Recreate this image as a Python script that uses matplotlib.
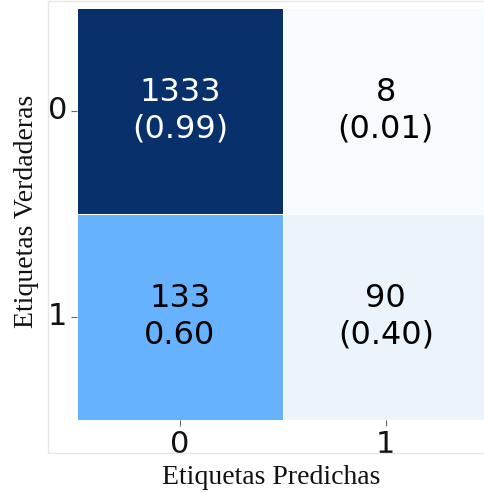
import numpy as np
import matplotlib
matplotlib.use("Agg")
import matplotlib.pyplot as plt
from matplotlib.colors import ListedColormap, to_rgb
from matplotlib.patches import Rectangle
import seaborn as sns

# Confusion matrix counts and row-normalised rates
counts = np.array([[1333, 8],
                   [133, 90]])
rates = ["(0.99)", "(0.01)", "0.60", "(0.40)"]
class_labels = ["0", "1"]
highlight = np.array([[False, False],
                      [True, False]])

annot = np.array([f"{c}\n{r}" for c, r in zip(counts.ravel(), rates)]).reshape(counts.shape)

fig = plt.figure(figsize=(4.84, 4.92), dpi=100)

# light outer frame
fig.patches.append(Rectangle((0.099, 0.079), 1.0, 0.919, transform=fig.transFigure,
                             fill=False, edgecolor="#e6e6e6", linewidth=1.0, zorder=0))

ax = fig.add_axes([0.159, 0.1463, 0.851, 0.838])

annot_kws = {"fontsize": 23, "family": "DejaVu Sans", "linespacing": 1.25}
sns.heatmap(counts, mask=highlight, annot=annot, fmt="", cmap="Blues", cbar=False,
            linewidths=0.5, linecolor="white", annot_kws=annot_kws, ax=ax)
sns.heatmap(counts, mask=~highlight, annot=annot, fmt="", cmap=ListedColormap(["#66b2ff"]),
            cbar=False, linewidths=0.5, linecolor="white", annot_kws=annot_kws, ax=ax)

# dark annotations in pure black, light ones stay white
for t in ax.texts:
    if sum(to_rgb(t.get_color())) < 1.5:
        t.set_color("black")

ax.set_xticklabels(class_labels, fontsize=22, family="DejaVu Sans", color="#111111")
ax.set_yticklabels(class_labels, fontsize=22, family="DejaVu Sans", color="#111111", rotation=0)
ax.tick_params(axis="both", length=4, width=0.8, color="#666666", pad=3)
ax.set_xlabel("")
ax.set_ylabel("")

fig.text(271.5 / 484, 1 - 478 / 492, "Etiquetas Predichas", ha="center", va="center",
         fontsize=20, family="Liberation Serif", color="#111111")
fig.text(27 / 484, 1 - 211 / 492, "Etiquetas Verdaderas", ha="center", va="center",
         rotation=90, fontsize=20, family="Liberation Serif", color="#111111")

fig.savefig("out.png", dpi=100)
